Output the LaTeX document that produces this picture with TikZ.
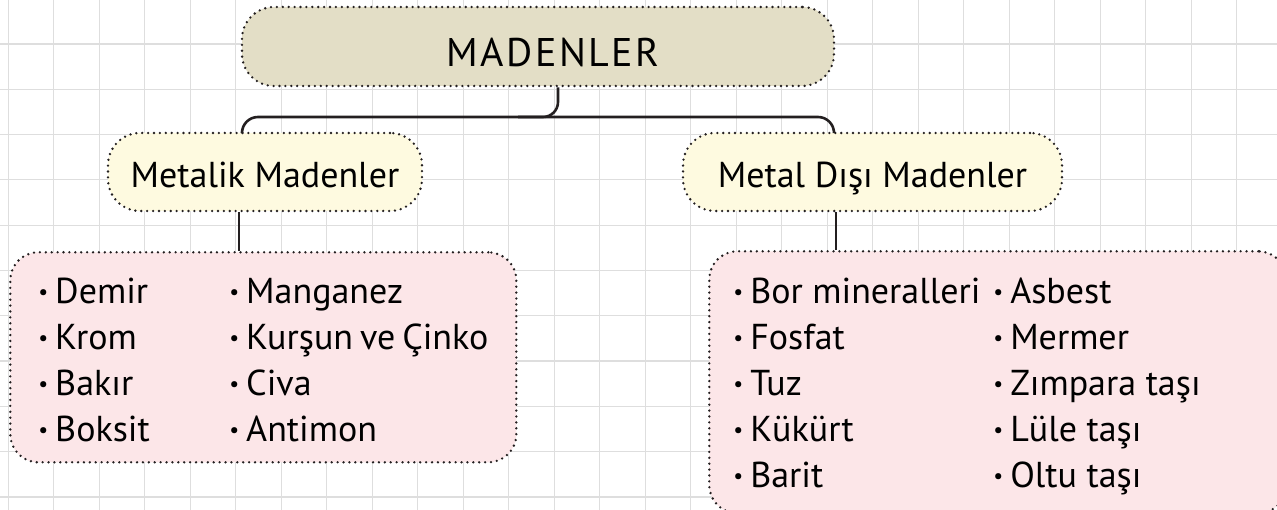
\documentclass[tikz,border=0pt]{standalone}
\usepackage{fontspec}
\setmainfont{PT Sans}

\definecolor{rasterfarbe}{HTML}{DEDEDE}
\definecolor{linienfarbe}{HTML}{231F20}
\definecolor{beige}{HTML}{E3DEC6}
\definecolor{creme}{HTML}{FEFAE0}
\definecolor{rosa}{HTML}{FCE6E8}

\newcommand{\punkt}{\raisebox{4pt}{\fontsize{22}{22}\selectfont\textbullet}\hspace{7pt}}

\tikzset{
    raster/.style={rasterfarbe, line width=1.2pt},
    kasten/.style={draw=linienfarbe, line width=2.6pt, dash pattern=on 0pt off 5.9pt, line cap=round},
    kopf/.style={kasten, fill=beige, rounded corners=32pt, minimum width=592pt, minimum height=79pt,
        text height=40pt, text depth=0pt, font=\fontsize{40}{48}\selectfont\addfontfeature{LetterSpace=6}},
    gruppe/.style={kasten, fill=creme, rounded corners=32pt, minimum height=78pt,
        text height=32pt, text depth=0pt, font=\fontsize{36}{43}\selectfont},
    liste/.style={kasten, fill=rosa, rounded corners=28pt, anchor=north west, inner ysep=0pt,
        font=\fontsize{36}{46}\selectfont},
    verbindung/.style={draw=linienfarbe, line width=2.6pt}
}

\begin{document}
\begin{tikzpicture}[x=1pt,y=-1pt]
    \useasboundingbox (0,0) rectangle (1277,510);

    % Raster
    \foreach \i in {0,...,27} {
            \draw[raster] ({8.3+45.5*\i},0) -- ++(0,510);
        }
    \foreach \j in {0,...,10} {
            \draw[raster] (0,{44+45.3*\j}) -- ++(1277,0);
        }

    % Kaesten
    \node[kopf] (mad) at (538,46.5) {\hspace*{30pt}MADENLER};
    \node[gruppe, minimum width=314pt] (metal) at (265,172) {Metalik Madenler};
    \node[gruppe, minimum width=379pt] (dismetal) at (872.5,172) {Metal Dışı Madenler};

    \node[liste, inner xsep=28pt, text height=51pt, text depth=159pt] (metliste) at (9,251) {%
        \begin{tabular}[t]{@{}p{191pt}@{}p{259pt}@{}}
            \punkt Demir  & \punkt Manganez \\
            \punkt Krom   & \punkt Kurşun ve Çinko \\
            \punkt Bakır  & \punkt Civa \\
            \punkt Boksit & \punkt Antimon
        \end{tabular}};
    \node[liste, inner xsep=24pt, text height=52pt, text depth=210pt] (disliste) at (708,250) {%
        \begin{tabular}[t]{@{}p{260pt}@{}p{269pt}@{}}
            \punkt Bor mineralleri & \punkt Asbest \\
            \punkt Fosfat          & \punkt Mermer \\
            \punkt Tuz             & \punkt Zımpara taşı \\
            \punkt Kükürt          & \punkt Lüle taşı \\
            \punkt Barit           & \punkt Oltu taşı
        \end{tabular}};

    % Verbindungen
    \coordinate (bar) at (558,117);
    \coordinate (lo) at ([xshift=-23]metal.north);
    \coordinate (ro) at ([xshift=-38.5]dismetal.north);
    \coordinate (lu) at ([xshift=-26]metal.south);
    \coordinate (ru) at ([xshift=-36.5]dismetal.south);

    \draw[verbindung, rounded corners=15pt] ([xshift=20]mad.south) |- ([xshift=-40]bar);
    \draw[verbindung, rounded corners=16pt] (lo) |- (bar) -| (ro);
    \draw[verbindung] (lu) -- (lu |- metliste.north);
    \draw[verbindung] (ru) -- (ru |- disliste.north);
\end{tikzpicture}
\end{document}
